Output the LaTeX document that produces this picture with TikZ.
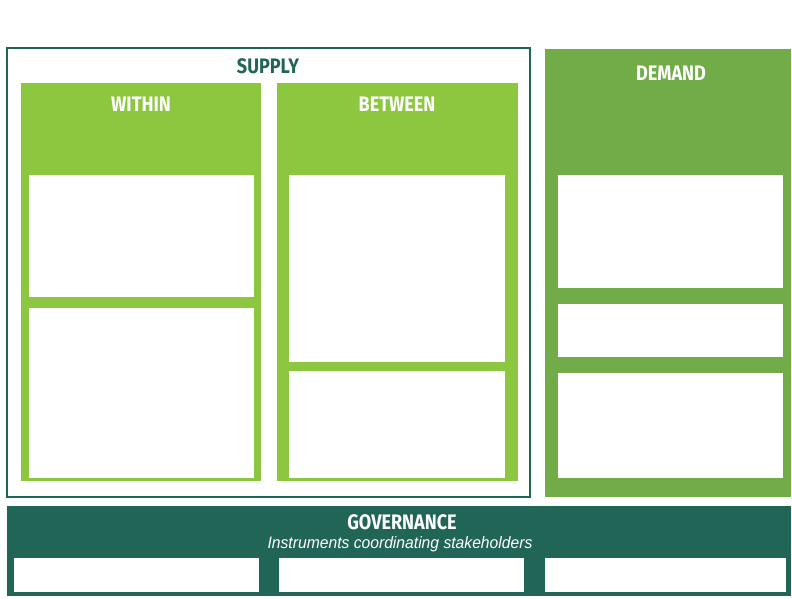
\documentclass[tikz,border=0pt]{standalone}
\usepackage{fontspec}
\setmainfont{Liberation Sans}
\newfontfamily\headfont[FakeStretch=0.86]{Fira Sans}
\newfontfamily\subfont[FakeStretch=0.95]{Liberation Sans}
\definecolor{teal}{RGB}{33,101,87}
\definecolor{leaf}{RGB}{141,198,63}
\definecolor{moss}{RGB}{114,172,72}
\tikzset{
  panel/.style={anchor=north west, inner sep=0pt, outer sep=0pt, draw=none},
  card/.style={panel, fill=white},
  heading/.style={font=\headfont\bfseries\fontsize{21}{24}\selectfont, text=white, inner sep=0pt},
}
% place a rectangle by its top-left corner and size (1 unit = 1pt, y downwards)
\newcommand{\blockat}[6]{\node[#1, minimum width=#4pt, minimum height=#5pt] (#2) at (#3) {#6};}
\begin{document}
\begin{tikzpicture}[x=1pt, y=-1pt]
  \useasboundingbox (0,0) rectangle (792,598);
  % supply frame
  \node[panel, draw=teal, line width=1.6pt, fill=white, minimum width=523pt, minimum height=449pt] (supply) at (7,48) {};
  \node[heading, text=teal] (supplyT) at (268,66) {SUPPLY};
  % within column
  \blockat{panel, fill=leaf}{within}{21,83}{240}{398}{}
  \node[heading] (withinT) at (141,104) {WITHIN};
  \blockat{card}{w1}{29,175}{225}{122}{}
  \blockat{card}{w2}{29,308}{225}{170}{}
  % between column
  \blockat{panel, fill=leaf}{between}{277,83}{241}{398}{}
  \node[heading] (betweenT) at (397,104) {BETWEEN};
  \blockat{card}{b1}{289,175}{216}{187}{}
  \blockat{card}{b2}{289,371}{216}{107}{}
  % demand column
  \blockat{panel, fill=moss}{demand}{545,49}{246}{448}{}
  \node[heading] (demandT) at (671,73) {DEMAND};
  \blockat{card}{d1}{558,175}{225}{113}{}
  \blockat{card}{d2}{558,304}{225}{53}{}
  \blockat{card}{d3}{558,373}{225}{105}{}
  % governance band
  \blockat{panel, fill=teal}{gov}{7,506}{784}{90}{}
  \node[heading] (govT) at (402,522) {GOVERNANCE};
  \node[font=\subfont\itshape\fontsize{16.5}{19}\selectfont, text=white, inner sep=0pt] (govS) at (400,544) {Instruments coordinating stakeholders};
  \blockat{card}{g1}{14,558}{245}{34}{}
  \blockat{card}{g2}{279,558}{245}{34}{}
  \blockat{card}{g3}{545,558}{241}{34}{}
\end{tikzpicture}
\end{document}
